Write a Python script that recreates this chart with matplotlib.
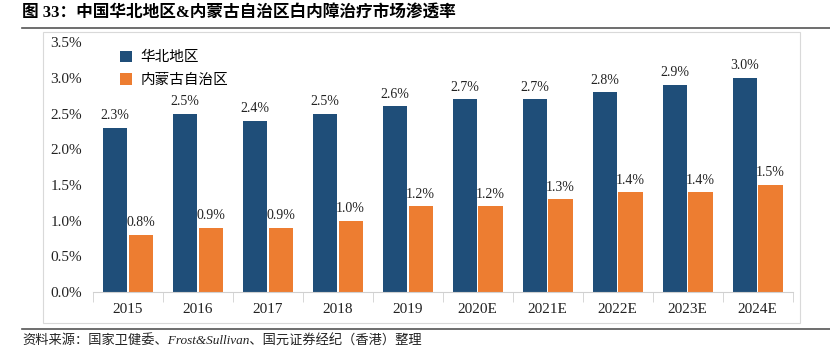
import numpy as np
import matplotlib
matplotlib.use('Agg')
import matplotlib.pyplot as plt
from matplotlib.patches import Rectangle
from matplotlib.lines import Line2D
from matplotlib.ticker import FuncFormatter, MultipleLocator

# data
YEARS      = ['2015', '2016', '2017', '2018', '2019',
              '2020E', '2021E', '2022E', '2023E', '2024E']
NORTH      = [2.3, 2.5, 2.4, 2.5, 2.6, 2.7, 2.7, 2.8, 2.9, 3.0]
INNER_MONG = [0.8, 0.9, 0.9, 1.0, 1.2, 1.2, 1.3, 1.4, 1.4, 1.5]
SERIES     = ['华北地区', '内蒙古自治区']

TITLE  = '图 33：中国华北地区&内蒙古自治区白内障治疗市场渗透率'
SOURCE = '资料来源：国家卫健委、Frost&Sullivan、国元证券经纪（香港）整理'

BLUE   = '#1F4E79'
ORANGE = '#ED7D31'
SERIF  = ['Liberation Serif', 'Noto Sans CJK SC']
CJK    = ['Noto Sans CJK SC', 'DejaVu Sans']

fig = plt.figure(figsize=(8.3, 3.57), dpi=100)

# header / footer rules and the light chart frame
fig.add_artist(Line2D([0.027, 1.0], [0.922, 0.922], color='#555555', lw=1.2))
fig.add_artist(Line2D([0.027, 1.0], [0.078, 0.078], color='#555555', lw=1.2))
fig.add_artist(Rectangle((0.052, 0.095), 0.912, 0.815, fill=False,
                         edgecolor='#d9d9d9', lw=0.8))

fig.text(0.027, 0.962, TITLE, family=SERIF, fontweight='bold',
         fontsize=12, va='center', ha='left')
fig.text(0.027, 0.043, SOURCE, family=SERIF, style='italic',
         fontsize=9.5, va='center', ha='left', color='#222222')

ax = fig.add_axes([0.112, 0.182, 0.843, 0.700])

x = np.arange(len(YEARS))
w = 0.345
b1 = ax.bar(x - w / 2 - 0.01, NORTH, w, color=BLUE, label=SERIES[0])
b2 = ax.bar(x + w / 2 + 0.01, INNER_MONG, w, color=ORANGE, label=SERIES[1])

for bars in (b1, b2):
    ax.bar_label(bars, labels=[f'{v:.1f}%' for v in bars.datavalues],
                 padding=4, fontsize=10, family=SERIF, color='#222222')

ax.set_xlim(-0.5, len(YEARS) - 0.5)
ax.set_ylim(0, 3.5)
ax.yaxis.set_major_locator(MultipleLocator(0.5))
ax.yaxis.set_major_formatter(FuncFormatter(lambda v, _: f'{v:.1f}%'))

ax.set_xticks(x)
ax.set_xticklabels(YEARS)
ax.set_xticks(np.arange(len(YEARS) + 1) - 0.5, minor=True)
ax.tick_params(axis='x', which='major', length=0, pad=8)
ax.tick_params(axis='x', which='minor', length=7, color='#d0d0d0')
ax.tick_params(axis='y', length=0, pad=8)
for lab in ax.get_xticklabels() + ax.get_yticklabels():
    lab.set_family(SERIF)
    lab.set_fontsize(11)
    lab.set_color('#222222')

ax.spines[['top', 'right', 'left']].set_visible(False)
ax.spines['bottom'].set_color('#d0d0d0')

leg = ax.legend(loc='upper left', bbox_to_anchor=(0.02, 1.02), frameon=False,
                handlelength=0.8, handleheight=0.8, handletextpad=0.6,
                labelspacing=0.6, prop={'family': CJK, 'size': 10.5})

fig.savefig('out.png', dpi=100)
